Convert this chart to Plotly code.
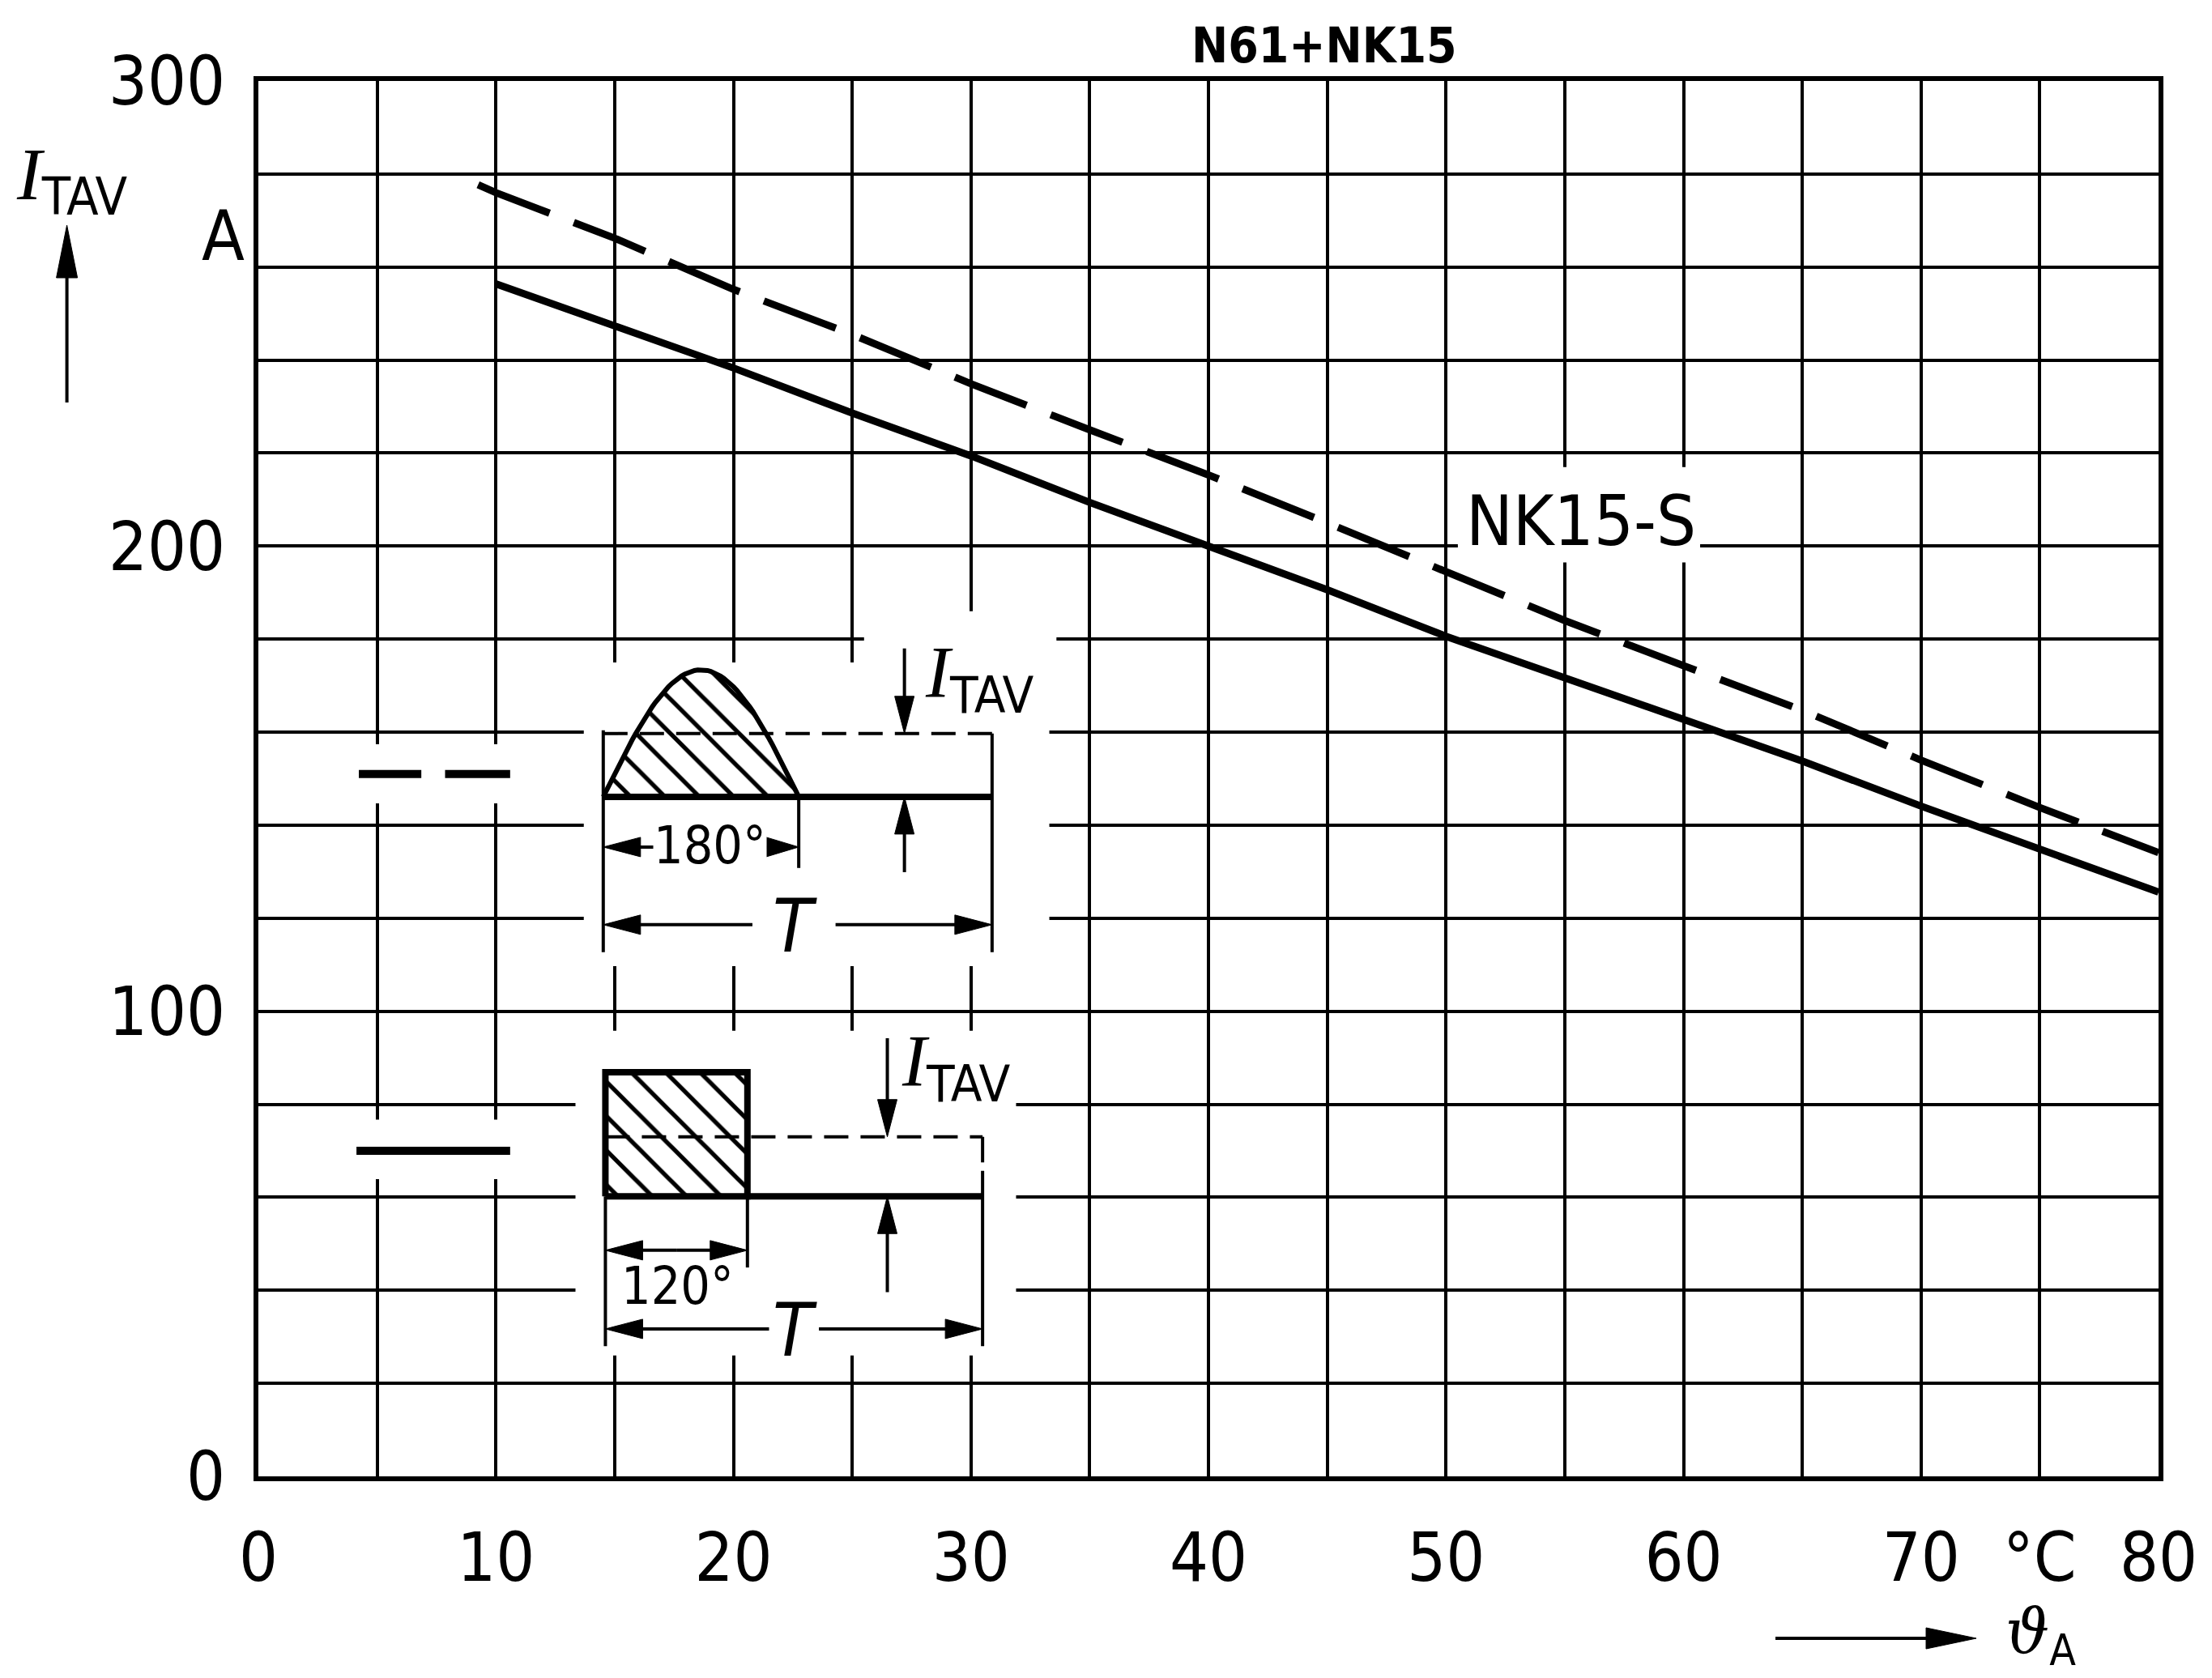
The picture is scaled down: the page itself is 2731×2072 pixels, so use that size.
import numpy as np
import plotly.graph_objects as go

# ---------------------------------------------------------------- data
# permissible average on-state current I_TAV [A] vs ambient temperature [°C]
temp_solid = [10, 15, 20, 25, 30, 35, 40, 45, 50, 55, 60, 65, 70, 75, 80]
itav_solid = [256.4, 247.4, 238.3, 228.6, 219.4, 209.4, 200.0, 190.6, 180.6,
              171.6, 162.6, 153.8, 144.1, 134.7, 125.6]

temp_dashed = [9.25, 10, 15, 20, 25, 30, 35, 40, 45, 50, 55, 60, 65, 70, 75, 80]
itav_dashed = [277.7, 276.0, 266.2, 255.2, 245.5, 234.9, 225.0, 215.3, 205.0,
               194.4, 184.0, 174.3, 164.7, 154.0, 143.8, 134.1]

x_tick_vals = list(range(0, 85, 5))
x_tick_text = ["0", "", "10", "", "20", "", "30", "", "40", "", "50", "",
               "60", "", "70", "°C", "80"]
y_tick_vals = list(range(0, 320, 20))
y_tick_text = ["0", "", "", "", "", "100", "", "", "", "", "200", "", "", "",
               "", "300"]

title_text = "<b>N61+NK15</b>"
curve_label = "NK15-S"

# ---------------------------------------------------------------- page geometry
W, H = 2731, 2072
ML, MR, MT, MB = 319, 66, 100, 249
PW, PH = W - ML - MR, H - MT - MB
X_MAX, Y_MAX = 80, 300
PX_X, PX_Y = PW / X_MAX, PH / Y_MAX          # pixels per data unit

FONT = "DejaVu Sans Condensed, Liberation Sans, sans-serif"
SERIF = "Liberation Serif, DejaVu Serif, serif"
INK = "black"

shapes = []
annotations = []


def px_paper(x, y):
    """page pixel -> paper coordinates"""
    return (x - ML) / PW, (MT + PH - y) / PH


def seg(x0, y0, x1, y1, w=4, dash="solid", ref="data"):
    xr, yr = ("x", "y") if ref == "data" else ("paper", "paper")
    shapes.append(dict(type="line", xref=xr, yref=yr, x0=x0, y0=y0, x1=x1, y1=y1,
                       line=dict(color=INK, width=w, dash=dash), layer="above"))


def arrow(x0, y0, x1, y1, head_len=46, head_w=24, w=4, ref="data"):
    """shaft from (x0,y0) to a filled arrow head whose tip is (x1,y1)"""
    sx, sy = (PX_X, PX_Y) if ref == "data" else (PW, PH)
    dx, dy = (x1 - x0) * sx, (y1 - y0) * sy
    ln = float(np.hypot(dx, dy))
    ux, uy = dx / ln, dy / ln
    bx, by = x1 - ux * head_len / sx, y1 - uy * head_len / sy
    nx, ny = -uy, ux
    p1 = (bx + nx * head_w / 2 / sx, by + ny * head_w / 2 / sy)
    p2 = (bx - nx * head_w / 2 / sx, by - ny * head_w / 2 / sy)
    seg(x0, y0, bx + ux * 3 / sx, by + uy * 3 / sy, w=w, ref=ref)
    xr, yr = ("x", "y") if ref == "data" else ("paper", "paper")
    path = f"M{x1},{y1} L{p1[0]},{p1[1]} L{p2[0]},{p2[1]} Z"
    shapes.append(dict(type="path", xref=xr, yref=yr, path=path, fillcolor=INK,
                       line=dict(color=INK, width=1), layer="above"))


def text(x, y, s, size, xanchor="center", yanchor="middle", ref="data",
         family=FONT, bg=None):
    xr, yr = ("x", "y") if ref == "data" else ("paper", "paper")
    a = dict(x=x, y=y, xref=xr, yref=yr, text=s, showarrow=False,
             xanchor=xanchor, yanchor=yanchor,
             font=dict(family=family, size=size, color=INK))
    if bg:
        a.update(bgcolor=bg, borderpad=0)
    annotations.append(a)


ITAV = f"<span style='font-family:{SERIF}'><i>I</i></span><sub>TAV</sub>"

# ---------------------------------------------------------------- white knock-outs in the grid
grid_gaps = [
    (3.6, 11.0, 144.7, 157.4),     # dashed legend key
    (3.6, 11.0, 63.9, 76.7),       # solid legend key
    (13.7, 33.3, 109.7, 175.0),    # 180° waveform sketch
    (25.5, 33.6, 175.0, 186.0),
    (13.35, 31.9, 26.0, 95.8),     # 120° waveform sketch
    (50.5, 60.7, 196.5, 217.0),    # curve label
]
for gx0, gx1, gy0, gy1 in grid_gaps:
    shapes.append(dict(type="rect", xref="x", yref="y", x0=gx0, x1=gx1, y0=gy0, y1=gy1,
                       fillcolor="white", line=dict(width=0), layer="between"))

# ---------------------------------------------------------------- legend keys
seg(4.23, 151.0, 6.86, 151.0, w=10)
seg(7.86, 151.0, 10.6, 151.0, w=10)
seg(4.13, 70.0, 10.6, 70.0, w=10)

# ---------------------------------------------------------------- 180° half-sine sketch
S1_X0, S1_X1, S1_XE = 14.52, 22.75, 30.89
S1_BASE, S1_PEAK, S1_LEVEL = 146.1, 173.4, 159.7
t = np.linspace(0, np.pi, 61)
hump_x = list(S1_X0 + (S1_X1 - S1_X0) * t / np.pi) + [S1_X0]
hump_y = list(S1_BASE + (S1_PEAK - S1_BASE) * np.sin(t)) + [S1_BASE]

seg(S1_X0, S1_BASE, S1_XE, S1_BASE, w=8)
seg(S1_X0, S1_LEVEL, S1_XE, S1_LEVEL, w=4, dash="30px,15px")
seg(S1_X0, 160.4, S1_X0, 112.7)
seg(S1_XE, S1_LEVEL, S1_XE, 112.7)
seg(S1_X1, S1_BASE, S1_X1, 130.8)
arrow(18.9, 135.3, S1_X0, 135.3)
arrow(18.9, 135.3, S1_X1, 135.3, head_len=40)
arrow(20.8, 118.6, S1_X0, 118.6)
arrow(24.3, 118.6, S1_XE, 118.6)
arrow(27.2, 178.0, 27.2, S1_LEVEL)
arrow(27.2, 129.9, 27.2, S1_BASE)
text(19.0, 135.6, "180°", 64, bg="white")
text(22.6, 118.3, "<i>T</i>", 90)
text(28.0, 171.5, ITAV, 90, xanchor="left")

# ---------------------------------------------------------------- 120° block sketch
S2_X0, S2_X1, S2_XE = 14.61, 20.59, 30.49
S2_BASE, S2_TOP, S2_LEVEL = 60.2, 86.9, 73.0
block_x = [S2_X0, S2_X0, S2_X1, S2_X1, S2_X0]
block_y = [S2_BASE, S2_TOP, S2_TOP, S2_BASE, S2_BASE]

seg(S2_X1, S2_BASE, S2_XE, S2_BASE, w=8)
seg(S2_X0, S2_LEVEL, S2_XE, S2_LEVEL, w=4, dash="30px,15px")
seg(S2_XE, S2_LEVEL, S2_XE, 67.5, w=4)
seg(S2_XE, 65.7, S2_XE, 28.0)
seg(S2_X0, S2_BASE, S2_X0, 28.0)
seg(S2_X1, S2_BASE, S2_X1, 44.9)
arrow(17.6, 48.6, S2_X0, 48.6)
arrow(17.6, 48.6, S2_X1, 48.6)
arrow(21.5, 31.7, S2_X0, 31.7)
arrow(23.6, 31.7, S2_XE, 31.7)
arrow(26.48, 94.2, 26.48, S2_LEVEL)
arrow(26.48, 39.6, 26.48, S2_BASE)
text(17.65, 40.9, "120°", 64)
text(22.6, 31.4, "<i>T</i>", 90)
text(27.0, 88.0, ITAV, 90, xanchor="left")

# ---------------------------------------------------------------- axis titles and labels
ax, ay = px_paper(82.6, 497)
bx, by = px_paper(82.6, 278)
arrow(ax, ay, bx, by, head_len=65, head_w=26, w=4, ref="paper")
tx, ty = px_paper(18, 222)
text(tx, ty, ITAV, 92, xanchor="left", ref="paper")
tx, ty = px_paper(275, 291)
text(tx, ty, "A", 86, ref="paper")

ax, ay = px_paper(2192, 2023)
bx, by = px_paper(2440, 2023)
arrow(ax, ay, bx, by, head_len=62, head_w=26, w=4, ref="paper")
tx, ty = px_paper(2474, 2019)
text(tx, ty, "<span style='font-family:DejaVu Serif'><i>ϑ</i></span><sub>A</sub>", 76,
     xanchor="left", ref="paper")

tx, ty = px_paper(1635, 56)
text(tx, ty, title_text, 60, ref="paper")
text(55.7, 205.5, curve_label, 86)

# ---------------------------------------------------------------- figure
fig = go.Figure()
fig.add_trace(go.Scatter(x=temp_dashed, y=itav_dashed, mode="lines",
                         line=dict(color=INK, width=9, dash="95px,32px"),
                         hoverinfo="skip"))
fig.add_trace(go.Scatter(x=temp_solid, y=itav_solid, mode="lines",
                         line=dict(color=INK, width=9), hoverinfo="skip"))
hatch = dict(shape="\\", size=30, solidity=0.18, fgcolor=INK, fgopacity=1,
             bgcolor="white", fillmode="replace")
fig.add_trace(go.Scatter(x=hump_x, y=hump_y, mode="lines", fill="toself",
                         fillcolor="white", fillpattern=hatch,
                         line=dict(color=INK, width=6), hoverinfo="skip"))
fig.add_trace(go.Scatter(x=block_x, y=block_y, mode="lines", fill="toself",
                         fillcolor="white", fillpattern=hatch,
                         line=dict(color=INK, width=8), hoverinfo="skip"))

axis_common = dict(showgrid=True, gridcolor=INK, gridwidth=3.5, zeroline=False,
                   showline=True, linecolor=INK, linewidth=6, mirror=True,
                   ticks="", tickfont=dict(family=FONT, size=84, color=INK))
fig.update_xaxes(range=[0, X_MAX], tickmode="array", tickvals=x_tick_vals,
                 ticktext=x_tick_text, ticklabelstandoff=22, **axis_common)
fig.update_yaxes(range=[0, Y_MAX], tickmode="array", tickvals=y_tick_vals,
                 ticktext=y_tick_text, ticklabelstandoff=18, **axis_common)

fig.update_layout(width=W, height=H, margin=dict(l=ML, r=MR, t=MT, b=MB),
                  plot_bgcolor="white", paper_bgcolor="white", showlegend=False,
                  shapes=shapes, annotations=annotations)

fig.write_html("out.html")
